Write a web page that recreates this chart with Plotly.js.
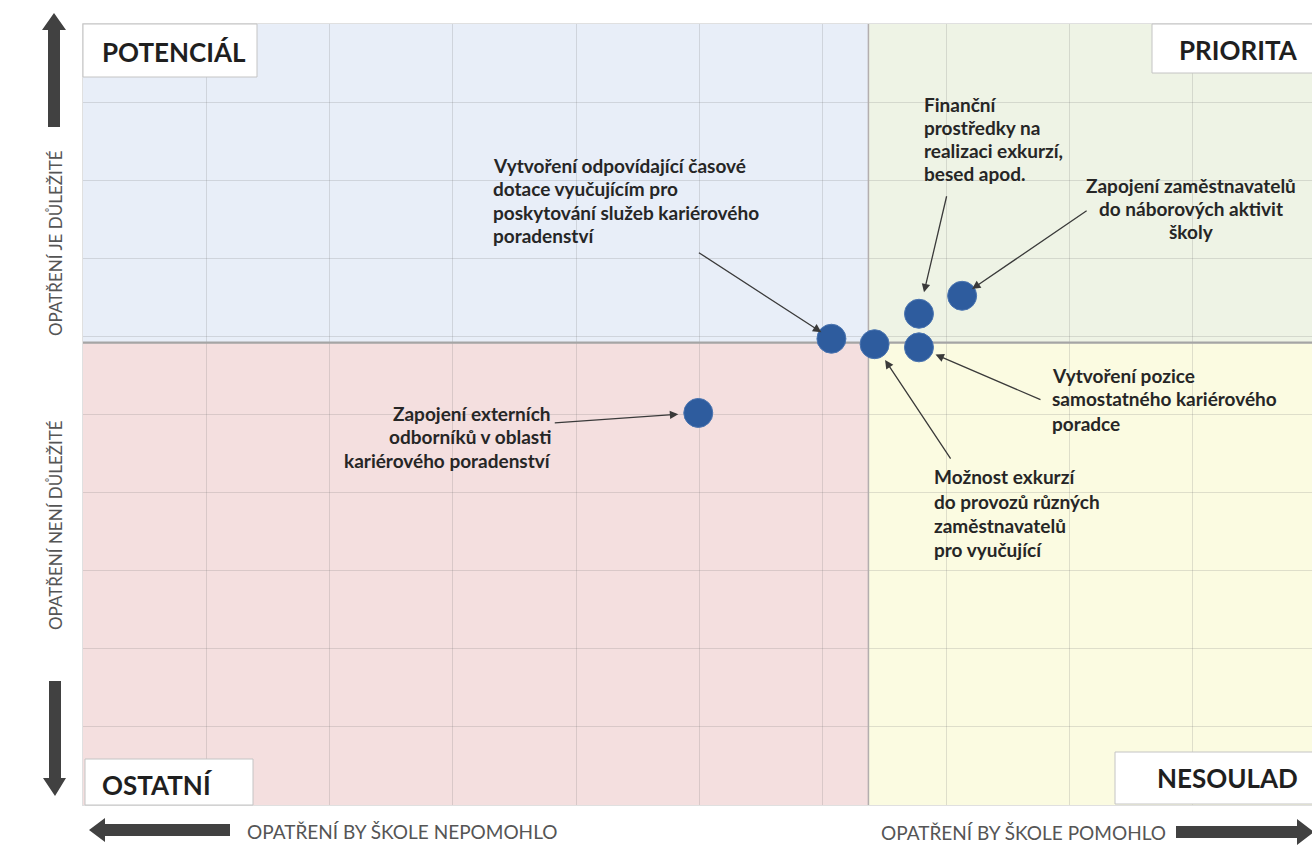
<!DOCTYPE html>
<html>
<head>
<meta charset="utf-8">
<script src="https://cdn.plot.ly/plotly-3.0.1.min.js"></script>
<style>
html,body{margin:0;padding:0;background:#fff;overflow:hidden;}
#chart{width:1316px;height:849px;}
</style>
</head>
<body>
<div id="chart"></div>
<script>
// ---- data ----
const categories = [
  "Vytvoření odpovídající časové dotace vyučujícím pro poskytování služeb kariérového poradenství",
  "Možnost exkurzí do provozů různých zaměstnavatelů pro vyučující",
  "Finanční prostředky na realizaci exkurzí, besed apod.",
  "Vytvoření pozice samostatného kariérového poradce",
  "Zapojení zaměstnavatelů do náborových aktivit školy",
  "Zapojení externích odborníků v oblasti kariérového poradenství"
];
const helpfulness = [6.07, 6.42, 6.78, 6.78, 7.13, 4.99];   // x
const importance  = [5.97, 5.90, 6.29, 5.86, 6.52, 5.02];   // y
const xMid = 6.37;
const yMid = 5.92;
const labelLines = [
  ["Vytvoření odpovídající časové", "dotace vyučujícím pro", "poskytování služeb kariérového", "poradenství"],
  ["Možnost exkurzí", "do provozů různých", "zaměstnavatelů", "pro vyučující"],
  ["Finanční", "prostředky na", "realizaci exkurzí,", "besed apod."],
  ["Vytvoření pozice", "samostatného kariérového", "poradce"],
  ["Zapojení zaměstnavatelů", "do náborových aktivit", "školy"],
  ["Zapojení externích", "odborníků v oblasti", "kariérového poradenství"]
];
const quadrantNames = ["POTENCIÁL", "PRIORITA", "OSTATNÍ", "NESOULAD"];
const axisTexts = ["OPATŘENÍ JE DŮLEŽITÉ", "OPATŘENÍ NENÍ DŮLEŽITÉ", "OPATŘENÍ BY ŠKOLE NEPOMOHLO", "OPATŘENÍ BY ŠKOLE POMOHLO"];

// ---- layout helpers (pixel -> paper) ----
const L = 83, T = 24, W = 1233, H = 781;
const px = v => (v - L) / W;
const py = v => (T + H - v) / H;

const FONT = "Lato, 'Open Sans', sans-serif";
const TXT = "#262626";

// label block placement: [anchor x px, first line centre y px, align, spacing]
const blockPos = [
  [491, 165, "left", 23.5],
  [932, 477, "left", 24],
  [922, 105, "left", 22.7],
  [1050, 375, "left", 24],
  [1191, 186, "center", 22.5],
  [553, 413, "right", 23.5]
];
// arrow tail offsets (px, relative to point) and standoff
const arrowPos = [
  [-134, -87, 12],
  [77, 116, 19],
  [28, -119, 22],
  [123, 53, 18],
  [126, -86, 12],
  [-145, 10, 20]
];

const annotations = [];
labelLines.forEach((lines, i) => {
  const [ax, ay, al, sp] = blockPos[i];
  lines.forEach((t, j) => {
    annotations.push({
      xref: "paper", yref: "paper", x: px(ax), y: py(ay + j * sp),
      xanchor: al, yanchor: "middle", text: t, showarrow: false,
      font: {family: FONT, size: 19, color: TXT, weight: 700}
    });
  });
  const [ox, oy, so] = arrowPos[i];
  annotations.push({
    x: helpfulness[i], y: importance[i], xref: "x", yref: "y",
    ax: ox, ay: oy, text: "", showarrow: true,
    arrowhead: 2, arrowsize: 1.3, arrowwidth: 1.3, arrowcolor: "#3a3a3a", standoff: so
  });
});

// quadrant name labels
const qPos = [
  [100, 52, "left"], [1300, 50, "right"], [100, 785, "left"], [1300, 778, "right"]
];
quadrantNames.forEach((n, i) => {
  annotations.push({
    xref: "paper", yref: "paper", x: px(qPos[i][0]), y: py(qPos[i][1]),
    xanchor: qPos[i][2], yanchor: "middle", text: n, showarrow: false,
    font: {family: FONT, size: 26, color: "#1f1f1f", weight: 700}
  });
});

// axis direction texts
const axFont = s => ({family: FONT, size: s, color: "#555"});
annotations.push({xref:"paper", yref:"paper", x: px(55), y: py(243), xanchor:"center", yanchor:"middle", text: axisTexts[0], textangle: -90, showarrow:false, font: axFont(17)});
annotations.push({xref:"paper", yref:"paper", x: px(55), y: py(525), xanchor:"center", yanchor:"middle", text: axisTexts[1], textangle: -90, showarrow:false, font: axFont(17)});
annotations.push({xref:"paper", yref:"paper", x: px(245), y: py(831), xanchor:"left", yanchor:"middle", text: axisTexts[2], showarrow:false, font: axFont(19)});
annotations.push({xref:"paper", yref:"paper", x: px(1168), y: py(832), xanchor:"right", yanchor:"middle", text: axisTexts[3], showarrow:false, font: axFont(19)});

const shapes = [
  // quadrant backgrounds
  {type:"rect", layer:"below", xref:"x", yref:"y", x0:0, x1:xMid, y0:yMid, y1:10, fillcolor:"#e8eef8", line:{width:0}},
  {type:"rect", layer:"below", xref:"x", yref:"y", x0:xMid, x1:10, y0:yMid, y1:10, fillcolor:"#eef3e5", line:{width:0}},
  {type:"rect", layer:"below", xref:"x", yref:"y", x0:0, x1:xMid, y0:0, y1:yMid, fillcolor:"#f4dfdf", line:{width:0}},
  {type:"rect", layer:"below", xref:"x", yref:"y", x0:xMid, x1:10, y0:0, y1:yMid, fillcolor:"#fbfbe1", line:{width:0}},
  // dividing lines
  {type:"line", layer:"between", xref:"x", yref:"y", x0:xMid, x1:xMid, y0:0, y1:10, line:{color:"#b3aeae", width:1.5}},
  {type:"line", layer:"between", xref:"x", yref:"y", x0:0, x1:10, y0:yMid, y1:yMid, line:{color:"#a5a5a5", width:2.2}},
  // quadrant label boxes
  {type:"rect", xref:"paper", yref:"paper", x0:px(83), x1:px(257), y0:py(77), y1:py(24), fillcolor:"#fff", line:{color:"#c4c4c4", width:1}},
  {type:"rect", xref:"paper", yref:"paper", x0:px(1152), x1:px(1330), y0:py(73), y1:py(24), fillcolor:"#fff", line:{color:"#c4c4c4", width:1}},
  {type:"rect", xref:"paper", yref:"paper", x0:px(85), x1:px(253), y0:py(805), y1:py(759), fillcolor:"#fff", line:{color:"#c4c4c4", width:1}},
  {type:"rect", xref:"paper", yref:"paper", x0:px(1115), x1:px(1330), y0:py(804), y1:py(752), fillcolor:"#fff", line:{color:"#c4c4c4", width:1}},
];
// thick direction arrows
function poly(pts){ return "M " + pts.map(p => px(p[0]) + "," + py(p[1])).join(" L ") + " Z"; }
const arrowFill = "#414141";
shapes.push({type:"path", xref:"paper", yref:"paper", path: poly([[54,13],[66,30],[60,30],[60,127],[48,127],[48,30],[42,30]]), fillcolor:arrowFill, line:{width:0}});
shapes.push({type:"path", xref:"paper", yref:"paper", path: poly([[49,681],[61,681],[61,778],[66,778],[55,796],[43,778],[49,778]]), fillcolor:arrowFill, line:{width:0}});
shapes.push({type:"path", xref:"paper", yref:"paper", path: poly([[89,830],[105,818],[105,824],[230,824],[230,836],[105,836],[105,842]]), fillcolor:arrowFill, line:{width:0}});
shapes.push({type:"path", xref:"paper", yref:"paper", path: poly([[1176,826],[1297,826],[1297,819],[1314,832],[1297,845],[1297,838],[1176,838]]), fillcolor:arrowFill, line:{width:0}});

const trace = {
  type: "scatter", mode: "markers",
  x: helpfulness, y: importance, text: categories, hoverinfo: "text",
  marker: {size: 29, color: "#2e5c9e", line: {width: 1, color: "#4a74b0"}}
};

const layout = {
  width: 1316, height: 849,
  margin: {l: L, r: 0, t: T, b: 849 - T - H},
  paper_bgcolor: "#fff", plot_bgcolor: "#fff",
  showlegend: false,
  xaxis: {range: [0, 10], dtick: 1, tick0: 0, showticklabels: false, ticks: "", zeroline: false,
          showgrid: true, gridcolor: "rgba(110,110,110,0.2)", gridwidth: 1,
          showline: true, mirror: true, linecolor: "rgba(0,0,0,0.12)", linewidth: 1, fixedrange: true},
  yaxis: {range: [0, 10], dtick: 1, tick0: 0, showticklabels: false, ticks: "", zeroline: false,
          showgrid: true, gridcolor: "rgba(110,110,110,0.2)", gridwidth: 1,
          showline: true, mirror: true, linecolor: "rgba(0,0,0,0.12)", linewidth: 1, fixedrange: true},
  shapes: shapes,
  annotations: annotations,
  font: {family: FONT}
};

Plotly.newPlot("chart", [trace], layout, {displayModeBar: false, staticPlot: true});
</script>
</body>
</html>
